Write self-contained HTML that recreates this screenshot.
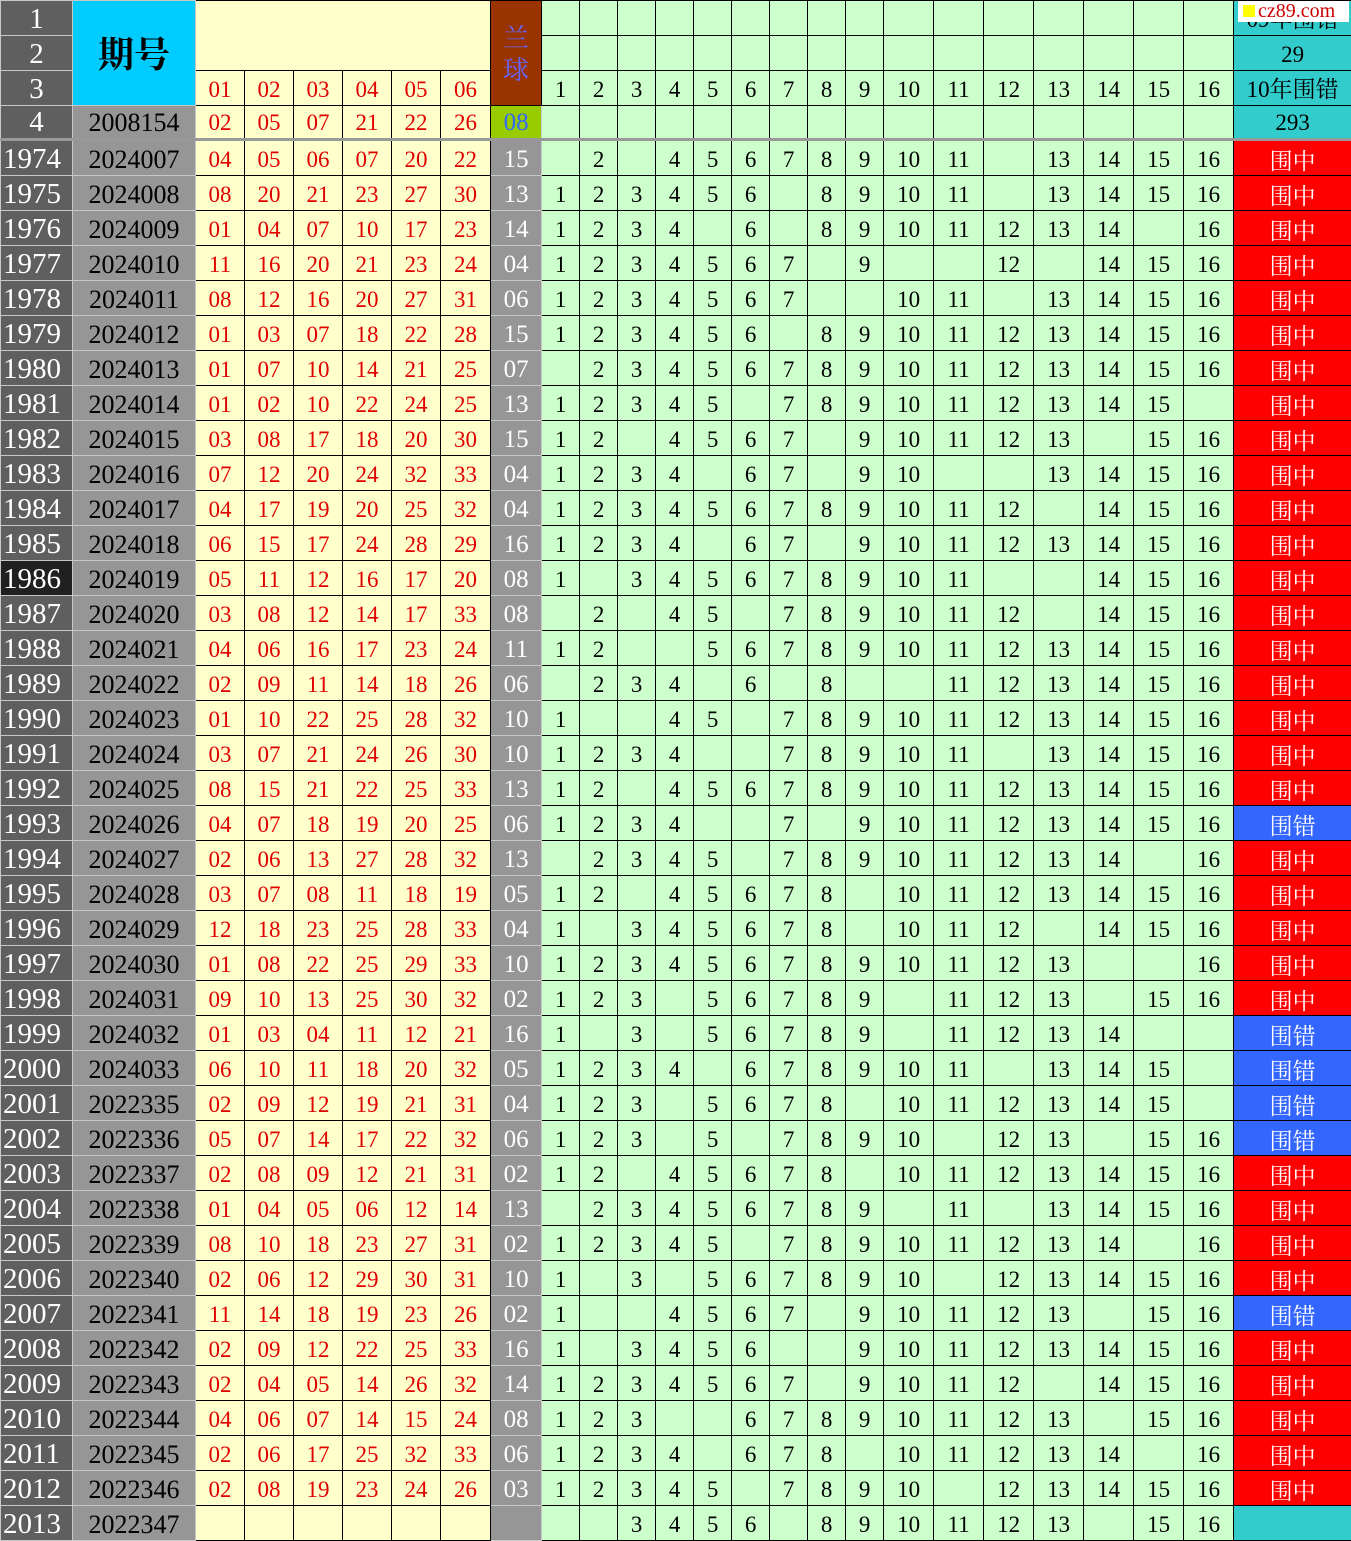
<!DOCTYPE html>
<html><head><meta charset="utf-8">
<style>
body{margin:0;background:#fff;width:1351px;height:1538px;overflow:hidden;position:relative}
table{border-collapse:collapse;table-layout:fixed;width:1351px;font-family:"Liberation Serif","Noto Serif CJK SC",serif}
td{height:34px;padding:0;border:1px solid #000;text-align:center;vertical-align:bottom;font-size:23px;line-height:30px;white-space:nowrap;overflow:hidden}
td:nth-child(1){background:#5f5f5f;color:#fff;font-size:29px;border-color:#c8c8c8;text-align:left;padding-left:2px;line-height:32px}
td:nth-child(2){background:#969696;color:#000;font-size:26px;border-color:#c8c8c8}
td:nth-child(n+3):nth-child(-n+8){background:#ffffcc;color:#e00000}
td:nth-child(9){background:#969696;color:#fff;border-color:#c8c8c8;font-size:25px}
td:nth-child(n+10){background:#ccffcc;color:#000}
td:nth-child(26){background:#ff0000;color:#fff;font-family:"Noto Serif CJK SC",serif;font-size:23px}
td.e{background:#3366ff!important}
td.t{background:#33cccc!important;color:#000!important;font-family:"Liberation Serif","Noto Serif CJK SC",serif!important}
td.sel{background:#202020!important}
tr.hd td.rn{background:#5f5f5f;color:#fff;font-size:29px;border-color:#c8c8c8;text-align:center;padding:0;font-family:"Liberation Serif",serif}
tr.hd td.g{background:#ccffcc;color:#000;border-color:#000;font-size:23px;font-family:"Liberation Serif",serif}
tr.hd td.y{background:#ffffcc;color:#e00000;border-color:#000;font-size:23px;font-family:"Liberation Serif",serif}
tr.hd td.p{background:#969696;color:#000;border-color:#c8c8c8;font-size:26px}
tr.hd td.b{background:#99cc00;color:#3366ff;font-size:25px}
tr.hd.sep td{border-bottom:3px solid #999!important;height:32px}
</style></head><body>
<table>
<colgroup><col style="width:72px"><col style="width:123px"><col style="width:49px"><col style="width:49px"><col style="width:49px"><col style="width:49px"><col style="width:49px"><col style="width:50px"><col style="width:51px"><col style="width:38px"><col style="width:38px"><col style="width:38px"><col style="width:38px"><col style="width:38px"><col style="width:38px"><col style="width:38px"><col style="width:38px"><col style="width:38px"><col style="width:50px"><col style="width:50px"><col style="width:50px"><col style="width:50px"><col style="width:50px"><col style="width:50px"><col style="width:50px"><col style="width:118px"></colgroup>
<tr class="hd"><td class="rn">1</td><td rowspan="3" style="background:#00ccff;font-family:'Noto Serif CJK SC',serif;font-size:36px;font-weight:bold;vertical-align:middle;border-color:#c8c8c8">期号</td><td colspan="6" rowspan="2" class="y"></td><td rowspan="3" style="background:#993300;color:#6666ff;font-family:'Noto Serif CJK SC',serif;font-size:26px;line-height:32px;vertical-align:middle;white-space:normal">兰<br>球</td><td class="g"></td><td class="g"></td><td class="g"></td><td class="g"></td><td class="g"></td><td class="g"></td><td class="g"></td><td class="g"></td><td class="g"></td><td class="g"></td><td class="g"></td><td class="g"></td><td class="g"></td><td class="g"></td><td class="g"></td><td class="g"></td><td class="t">09年围错</td></tr>
<tr class="hd"><td class="rn">2</td><td class="g"></td><td class="g"></td><td class="g"></td><td class="g"></td><td class="g"></td><td class="g"></td><td class="g"></td><td class="g"></td><td class="g"></td><td class="g"></td><td class="g"></td><td class="g"></td><td class="g"></td><td class="g"></td><td class="g"></td><td class="g"></td><td class="t">29</td></tr>
<tr class="hd"><td class="rn">3</td><td class="y">01</td><td class="y">02</td><td class="y">03</td><td class="y">04</td><td class="y">05</td><td class="y">06</td><td class="g">1</td><td class="g">2</td><td class="g">3</td><td class="g">4</td><td class="g">5</td><td class="g">6</td><td class="g">7</td><td class="g">8</td><td class="g">9</td><td class="g">10</td><td class="g">11</td><td class="g">12</td><td class="g">13</td><td class="g">14</td><td class="g">15</td><td class="g">16</td><td class="t">10年围错</td></tr>
<tr class="hd sep"><td class="rn">4</td><td class="p">2008154</td><td class="y">02</td><td class="y">05</td><td class="y">07</td><td class="y">21</td><td class="y">22</td><td class="y">26</td><td class="b">08</td><td class="g"></td><td class="g"></td><td class="g"></td><td class="g"></td><td class="g"></td><td class="g"></td><td class="g"></td><td class="g"></td><td class="g"></td><td class="g"></td><td class="g"></td><td class="g"></td><td class="g"></td><td class="g"></td><td class="g"></td><td class="g"></td><td class="t">293</td></tr>
<tr><td>1974<td>2024007<td>04<td>05<td>06<td>07<td>20<td>22<td>15<td><td>2<td><td>4<td>5<td>6<td>7<td>8<td>9<td>10<td>11<td><td>13<td>14<td>15<td>16<td>围中</tr>
<tr><td>1975<td>2024008<td>08<td>20<td>21<td>23<td>27<td>30<td>13<td>1<td>2<td>3<td>4<td>5<td>6<td><td>8<td>9<td>10<td>11<td><td>13<td>14<td>15<td>16<td>围中</tr>
<tr><td>1976<td>2024009<td>01<td>04<td>07<td>10<td>17<td>23<td>14<td>1<td>2<td>3<td>4<td><td>6<td><td>8<td>9<td>10<td>11<td>12<td>13<td>14<td><td>16<td>围中</tr>
<tr><td>1977<td>2024010<td>11<td>16<td>20<td>21<td>23<td>24<td>04<td>1<td>2<td>3<td>4<td>5<td>6<td>7<td><td>9<td><td><td>12<td><td>14<td>15<td>16<td>围中</tr>
<tr><td>1978<td>2024011<td>08<td>12<td>16<td>20<td>27<td>31<td>06<td>1<td>2<td>3<td>4<td>5<td>6<td>7<td><td><td>10<td>11<td><td>13<td>14<td>15<td>16<td>围中</tr>
<tr><td>1979<td>2024012<td>01<td>03<td>07<td>18<td>22<td>28<td>15<td>1<td>2<td>3<td>4<td>5<td>6<td><td>8<td>9<td>10<td>11<td>12<td>13<td>14<td>15<td>16<td>围中</tr>
<tr><td>1980<td>2024013<td>01<td>07<td>10<td>14<td>21<td>25<td>07<td><td>2<td>3<td>4<td>5<td>6<td>7<td>8<td>9<td>10<td>11<td>12<td>13<td>14<td>15<td>16<td>围中</tr>
<tr><td>1981<td>2024014<td>01<td>02<td>10<td>22<td>24<td>25<td>13<td>1<td>2<td>3<td>4<td>5<td><td>7<td>8<td>9<td>10<td>11<td>12<td>13<td>14<td>15<td><td>围中</tr>
<tr><td>1982<td>2024015<td>03<td>08<td>17<td>18<td>20<td>30<td>15<td>1<td>2<td><td>4<td>5<td>6<td>7<td><td>9<td>10<td>11<td>12<td>13<td><td>15<td>16<td>围中</tr>
<tr><td>1983<td>2024016<td>07<td>12<td>20<td>24<td>32<td>33<td>04<td>1<td>2<td>3<td>4<td><td>6<td>7<td><td>9<td>10<td><td><td>13<td>14<td>15<td>16<td>围中</tr>
<tr><td>1984<td>2024017<td>04<td>17<td>19<td>20<td>25<td>32<td>04<td>1<td>2<td>3<td>4<td>5<td>6<td>7<td>8<td>9<td>10<td>11<td>12<td><td>14<td>15<td>16<td>围中</tr>
<tr><td>1985<td>2024018<td>06<td>15<td>17<td>24<td>28<td>29<td>16<td>1<td>2<td>3<td>4<td><td>6<td>7<td><td>9<td>10<td>11<td>12<td>13<td>14<td>15<td>16<td>围中</tr>
<tr><td class="sel">1986<td>2024019<td>05<td>11<td>12<td>16<td>17<td>20<td>08<td>1<td><td>3<td>4<td>5<td>6<td>7<td>8<td>9<td>10<td>11<td><td><td>14<td>15<td>16<td>围中</tr>
<tr><td>1987<td>2024020<td>03<td>08<td>12<td>14<td>17<td>33<td>08<td><td>2<td><td>4<td>5<td><td>7<td>8<td>9<td>10<td>11<td>12<td><td>14<td>15<td>16<td>围中</tr>
<tr><td>1988<td>2024021<td>04<td>06<td>16<td>17<td>23<td>24<td>11<td>1<td>2<td><td><td>5<td>6<td>7<td>8<td>9<td>10<td>11<td>12<td>13<td>14<td>15<td>16<td>围中</tr>
<tr><td>1989<td>2024022<td>02<td>09<td>11<td>14<td>18<td>26<td>06<td><td>2<td>3<td>4<td><td>6<td><td>8<td><td><td>11<td>12<td>13<td>14<td>15<td>16<td>围中</tr>
<tr><td>1990<td>2024023<td>01<td>10<td>22<td>25<td>28<td>32<td>10<td>1<td><td><td>4<td>5<td><td>7<td>8<td>9<td>10<td>11<td>12<td>13<td>14<td>15<td>16<td>围中</tr>
<tr><td>1991<td>2024024<td>03<td>07<td>21<td>24<td>26<td>30<td>10<td>1<td>2<td>3<td>4<td><td><td>7<td>8<td>9<td>10<td>11<td><td>13<td>14<td>15<td>16<td>围中</tr>
<tr><td>1992<td>2024025<td>08<td>15<td>21<td>22<td>25<td>33<td>13<td>1<td>2<td><td>4<td>5<td>6<td>7<td>8<td>9<td>10<td>11<td>12<td>13<td>14<td>15<td>16<td>围中</tr>
<tr><td>1993<td>2024026<td>04<td>07<td>18<td>19<td>20<td>25<td>06<td>1<td>2<td>3<td>4<td><td><td>7<td><td>9<td>10<td>11<td>12<td>13<td>14<td>15<td>16<td class="e">围错</tr>
<tr><td>1994<td>2024027<td>02<td>06<td>13<td>27<td>28<td>32<td>13<td><td>2<td>3<td>4<td>5<td><td>7<td>8<td>9<td>10<td>11<td>12<td>13<td>14<td><td>16<td>围中</tr>
<tr><td>1995<td>2024028<td>03<td>07<td>08<td>11<td>18<td>19<td>05<td>1<td>2<td><td>4<td>5<td>6<td>7<td>8<td><td>10<td>11<td>12<td>13<td>14<td>15<td>16<td>围中</tr>
<tr><td>1996<td>2024029<td>12<td>18<td>23<td>25<td>28<td>33<td>04<td>1<td><td>3<td>4<td>5<td>6<td>7<td>8<td><td>10<td>11<td>12<td><td>14<td>15<td>16<td>围中</tr>
<tr><td>1997<td>2024030<td>01<td>08<td>22<td>25<td>29<td>33<td>10<td>1<td>2<td>3<td>4<td>5<td>6<td>7<td>8<td>9<td>10<td>11<td>12<td>13<td><td><td>16<td>围中</tr>
<tr><td>1998<td>2024031<td>09<td>10<td>13<td>25<td>30<td>32<td>02<td>1<td>2<td>3<td><td>5<td>6<td>7<td>8<td>9<td><td>11<td>12<td>13<td><td>15<td>16<td>围中</tr>
<tr><td>1999<td>2024032<td>01<td>03<td>04<td>11<td>12<td>21<td>16<td>1<td><td>3<td><td>5<td>6<td>7<td>8<td>9<td><td>11<td>12<td>13<td>14<td><td><td class="e">围错</tr>
<tr><td>2000<td>2024033<td>06<td>10<td>11<td>18<td>20<td>32<td>05<td>1<td>2<td>3<td>4<td><td>6<td>7<td>8<td>9<td>10<td>11<td><td>13<td>14<td>15<td><td class="e">围错</tr>
<tr><td>2001<td>2022335<td>02<td>09<td>12<td>19<td>21<td>31<td>04<td>1<td>2<td>3<td><td>5<td>6<td>7<td>8<td><td>10<td>11<td>12<td>13<td>14<td>15<td><td class="e">围错</tr>
<tr><td>2002<td>2022336<td>05<td>07<td>14<td>17<td>22<td>32<td>06<td>1<td>2<td>3<td><td>5<td><td>7<td>8<td>9<td>10<td><td>12<td>13<td><td>15<td>16<td class="e">围错</tr>
<tr><td>2003<td>2022337<td>02<td>08<td>09<td>12<td>21<td>31<td>02<td>1<td>2<td><td>4<td>5<td>6<td>7<td>8<td><td>10<td>11<td>12<td>13<td>14<td>15<td>16<td>围中</tr>
<tr><td>2004<td>2022338<td>01<td>04<td>05<td>06<td>12<td>14<td>13<td><td>2<td>3<td>4<td>5<td>6<td>7<td>8<td>9<td><td>11<td><td>13<td>14<td>15<td>16<td>围中</tr>
<tr><td>2005<td>2022339<td>08<td>10<td>18<td>23<td>27<td>31<td>02<td>1<td>2<td>3<td>4<td>5<td><td>7<td>8<td>9<td>10<td>11<td>12<td>13<td>14<td><td>16<td>围中</tr>
<tr><td>2006<td>2022340<td>02<td>06<td>12<td>29<td>30<td>31<td>10<td>1<td><td>3<td><td>5<td>6<td>7<td>8<td>9<td>10<td><td>12<td>13<td>14<td>15<td>16<td>围中</tr>
<tr><td>2007<td>2022341<td>11<td>14<td>18<td>19<td>23<td>26<td>02<td>1<td><td><td>4<td>5<td>6<td>7<td><td>9<td>10<td>11<td>12<td>13<td><td>15<td>16<td class="e">围错</tr>
<tr><td>2008<td>2022342<td>02<td>09<td>12<td>22<td>25<td>33<td>16<td>1<td><td>3<td>4<td>5<td>6<td><td><td>9<td>10<td>11<td>12<td>13<td>14<td>15<td>16<td>围中</tr>
<tr><td>2009<td>2022343<td>02<td>04<td>05<td>14<td>26<td>32<td>14<td>1<td>2<td>3<td>4<td>5<td>6<td>7<td><td>9<td>10<td>11<td>12<td><td>14<td>15<td>16<td>围中</tr>
<tr><td>2010<td>2022344<td>04<td>06<td>07<td>14<td>15<td>24<td>08<td>1<td>2<td>3<td><td><td>6<td>7<td>8<td>9<td>10<td>11<td>12<td>13<td><td>15<td>16<td>围中</tr>
<tr><td>2011<td>2022345<td>02<td>06<td>17<td>25<td>32<td>33<td>06<td>1<td>2<td>3<td>4<td><td>6<td>7<td>8<td><td>10<td>11<td>12<td>13<td>14<td><td>16<td>围中</tr>
<tr><td>2012<td>2022346<td>02<td>08<td>19<td>23<td>24<td>26<td>03<td>1<td>2<td>3<td>4<td>5<td><td>7<td>8<td>9<td>10<td><td>12<td>13<td>14<td>15<td>16<td>围中</tr>
<tr><td>2013<td>2022347<td><td><td><td><td><td><td><td><td><td>3<td>4<td>5<td>6<td><td>8<td>9<td>10<td>11<td>12<td>13<td><td>15<td>16<td class="t"></tr>
</table>
<div style="position:absolute;left:1238px;top:1px;width:111px;height:21px;background:#fff;font-family:'Liberation Serif',serif;font-size:20px;line-height:21px;color:#cc0000;white-space:nowrap"><span style="display:inline-block;width:12px;height:12px;background:#ffff00;margin:0 3px 0 5px"></span>cz89.com</div>
</body></html>
